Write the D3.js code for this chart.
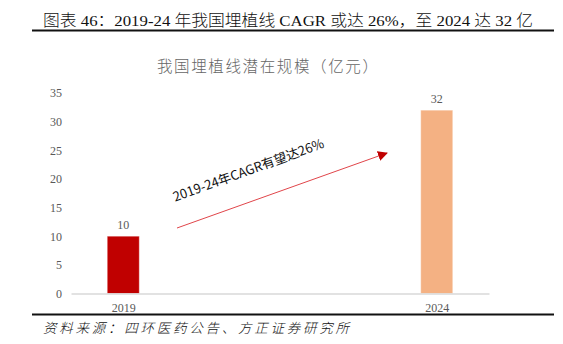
<!DOCTYPE html>
<html><head><meta charset="utf-8">
<script src="https://cdn.jsdelivr.net/npm/d3@7"></script>
<style>
html,body{margin:0;padding:0;background:#fff;}
svg{display:block;}
</style>
</head><body>
<svg id="c" width="563" height="344"></svg>
<script>
const categories = ["2019", "2024"];
const values = [10, 32];
const barColors = ["#C00000", "#F4B183"];
const yTicks = [0, 5, 10, 15, 20, 25, 30, 35];
const figTitle = "图表 46：2019-24 年我国埋植线 CAGR 或达 26%，至 2024 达 32 亿";
const chartTitle = "我国埋植线潜在规模（亿元）";
const annotation = "2019-24年CAGR有望达26%";
const source = "资料来源：四环医药公告、方正证券研究所";

const svg = d3.select("#c");
const serif = "'Liberation Serif','Times New Roman','Noto Sans CJK SC',serif";

// header
svg.append("text").attr("x", 43).attr("y", 25.5)
  .attr("font-family", serif).attr("font-size", 15.5).attr("font-weight", 300).attr("fill", "#111")
  .attr("textLength", 490).attr("lengthAdjust", "spacingAndGlyphs")
  .text(figTitle);
svg.append("line").attr("x1", 32).attr("x2", 554).attr("y1", 30.5).attr("y2", 30.5)
  .attr("stroke", "#111").attr("stroke-width", 2);

// chart title
svg.append("text").attr("x", 157).attr("y", 72)
  .attr("font-family", "'Noto Sans CJK SC',sans-serif").attr("font-size", 15.5).attr("font-weight", 300).attr("fill", "#666")
  .attr("textLength", 221).attr("lengthAdjust", "spacing")
  .text(chartTitle);

const x = d3.scalePoint().domain(categories).range([71, 489]).padding(0.1667);
const y = d3.scaleLinear().domain([0, 35]).range([293.5, 93]);
const bw = 32;

// y axis
const ya = svg.append("g").attr("transform", "translate(71,0)")
  .call(d3.axisLeft(y).tickValues(yTicks).tickSize(0).tickPadding(9));
ya.select(".domain").remove();
ya.selectAll("text").attr("font-family", serif).attr("font-size", 12).attr("fill", "#595959");

// bars
svg.append("g").selectAll("rect").data(values).join("rect")
  .attr("x", (d, i) => x(categories[i]) - bw / 2)
  .attr("y", d => y(d))
  .attr("width", bw)
  .attr("height", d => y(0) - y(d))
  .attr("fill", (d, i) => barColors[i])
  .attr("stroke", "rgba(255,255,255,0.35)").attr("stroke-width", 1);

// x axis
const xa = svg.append("g").attr("transform", `translate(0,${y(0)})`)
  .call(d3.axisBottom(x).tickSize(0).tickSizeOuter(0).tickPadding(10));
xa.select(".domain").attr("stroke", "#D9D9D9").attr("stroke-width", 1.5);
xa.selectAll("text").attr("font-family", serif).attr("font-size", 12).attr("fill", "#595959");

// value labels
svg.append("g").selectAll("text").data(values).join("text")
  .attr("x", (d, i) => x(categories[i]))
  .attr("y", d => y(d) - 7)
  .attr("text-anchor", "middle")
  .attr("font-family", serif).attr("font-size", 12).attr("fill", "#595959")
  .text(d => d);

// arrow
const defs = svg.append("defs");
defs.append("marker").attr("id", "ah").attr("viewBox", "0 0 10 10")
  .attr("refX", 9).attr("refY", 5).attr("markerWidth", 10).attr("markerHeight", 10)
  .attr("markerUnits", "userSpaceOnUse").attr("orient", "auto")
  .append("path").attr("d", "M0,0 L10,5 L0,10 Z").attr("fill", "#C00000");
svg.append("line").attr("x1", 177).attr("y1", 228).attr("x2", 387).attr("y2", 153)
  .attr("stroke", "#E0454A").attr("stroke-width", 1).attr("marker-end", "url(#ah)");

svg.append("text").attr("transform", "translate(250,174.5) rotate(-20)")
  .attr("text-anchor", "middle")
  .attr("font-family", "'Noto Sans CJK SC','Noto Sans',sans-serif").attr("font-size", 13).attr("fill", "#111")
  .text(annotation);

// footer
svg.append("line").attr("x1", 32).attr("x2", 554).attr("y1", 314.5).attr("y2", 314.5)
  .attr("stroke", "#111").attr("stroke-width", 2);
svg.append("text").attr("x", 43).attr("y", 333)
  .attr("font-family", "'Noto Sans CJK SC',sans-serif").attr("font-size", 13.5).attr("font-weight", 300).attr("font-style", "italic").attr("fill", "#111")
  .attr("textLength", 306).attr("lengthAdjust", "spacing")
  .text(source);
</script>
</body></html>
